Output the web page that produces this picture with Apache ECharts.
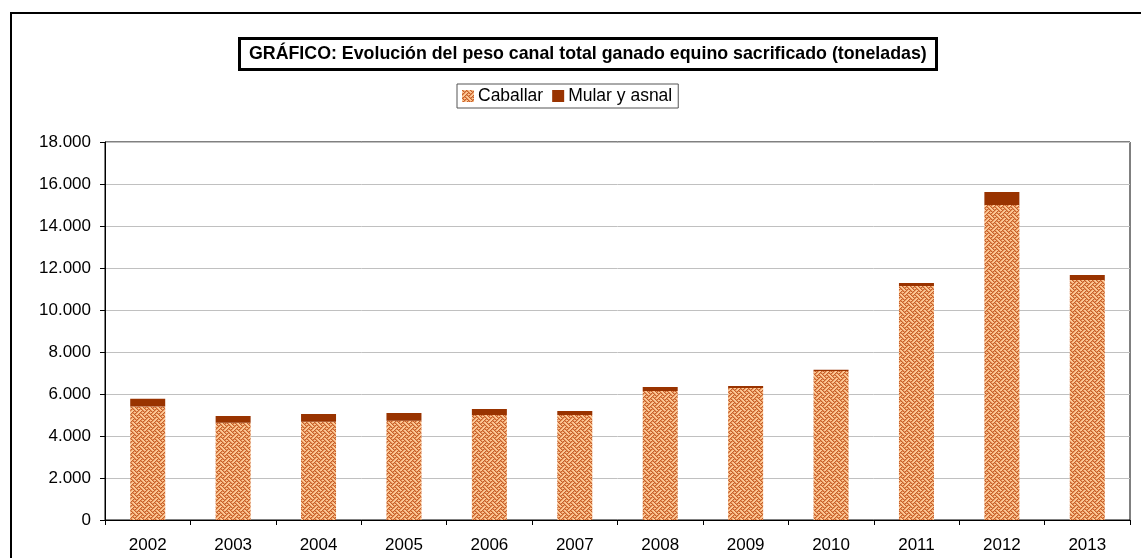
<!DOCTYPE html>
<html>
<head>
<meta charset="utf-8">
<script src="https://cdn.jsdelivr.net/npm/echarts@6/dist/echarts.min.js"></script>
<style>
  html, body { margin: 0; padding: 0; background: #fff; }
  #chart { width: 1141px; height: 558px; }
</style>
</head>
<body>
<div id="chart"></div>
<script>
const years = ['2002', '2003', '2004', '2005', '2006', '2007', '2008', '2009', '2010', '2011', '2012', '2013']
const caballar = [5400, 4630, 4680, 4730, 5000, 5000, 6140, 6290, 7100, 11140, 15000, 11430]
const mular = [370, 320, 370, 370, 290, 190, 190, 90, 50, 140, 620, 240]
const yTicks = { min: 0, max: 18000, step: 2000 }

const font = '"Liberation Sans", Arial, sans-serif'

// excel-like weave fill for the caballar bars
function weavePattern() {
  const rows = [
    'x...x...',
    '.x.x.x..',
    '..x...x.',
    '.x...x.x',
    'x...x...',
    '...x.x.x',
    '..x...x.',
    '.x.x...x',
  ]
  const c = document.createElement('canvas')
  c.width = 8
  c.height = 8
  const ctx = c.getContext('2d')
  ctx.fillStyle = '#fcc896'
  ctx.fillRect(0, 0, 8, 8)
  rows.forEach((row, y) => {
    for (let x = 0; x < 8; x++) {
      if (row[x] === 'x') {
        ctx.fillStyle = '#e8955c'
        ctx.fillRect((x + 1) % 8, y, 1, 1)
      }
    }
  })
  // dark pixels on top of the mid tone
  ctx.fillStyle = '#c4602c'
  rows.forEach((row, y) => {
    for (let x = 0; x < 8; x++) {
      if (row[x] === 'x') ctx.fillRect(x, y, 1, 1)
    }
  })
  return c
}

function fmt(v) {
  return String(v).replace(/\B(?=(\d{3})+(?!\d))/g, '.')
}

const chart = echarts.init(document.getElementById('chart'))
const option = {
  animation: false,
  textStyle: { fontFamily: font },
  title: {
    text: 'GRÁFICO: Evolución del peso canal total ganado equino sacrificado (toneladas)',
    left: 239,
    top: 38,
    padding: [7, 10, 7, 10],
    borderColor: '#000',
    borderWidth: 3,
    textStyle: {
      fontFamily: font,
      fontSize: 17.8,
      fontWeight: 'bold',
      color: '#000',
    },
  },
  legend: {
    left: 457,
    top: 84,
    padding: [3, 6, 3, 5],
    borderColor: '#555',
    borderWidth: 1,
    itemWidth: 12,
    itemHeight: 12,
    itemGap: 9,
    icon: 'rect',
    textStyle: { fontFamily: font, fontSize: 17.5, color: '#000', padding: [0, 0, 0, -1] },
    data: ['Caballar', 'Mular y asnal'],
  },
  graphic: [
    {
      type: 'rect',
      shape: { x: 11, y: 13, width: 1200, height: 600 },
      style: { fill: 'none', stroke: '#000', lineWidth: 2 },
      silent: true,
      z: 100,
    },
  ],
  grid: {
    left: 105,
    top: 142,
    right: 11,
    bottom: 38,
    show: true,
    borderColor: '#000',
    borderWidth: 1,
  },
  xAxis: {
    type: 'category',
    data: years,
    axisLine: { lineStyle: { color: '#000', width: 1 } },
    axisTick: { show: true, length: 5, lineStyle: { color: '#000' } },
    axisLabel: { color: '#000', fontSize: 17, margin: 17, fontFamily: font },
  },
  yAxis: {
    type: 'value',
    min: yTicks.min,
    max: yTicks.max,
    interval: yTicks.step,
    axisLine: { show: true, lineStyle: { color: '#000', width: 1 } },
    axisTick: { show: true, length: 5, lineStyle: { color: '#000' } },
    axisLabel: { color: '#000', fontSize: 17, margin: 14, fontFamily: font, formatter: fmt },
    splitLine: { show: true, lineStyle: { color: '#c0c0c0', width: 1 } },
  },
  series: [
    {
      name: 'Caballar',
      type: 'bar',
      stack: 'total',
      barWidth: 35,
      data: caballar,
      itemStyle: { color: { image: weavePattern(), repeat: 'repeat' } },
    },
    {
      name: 'Mular y asnal',
      type: 'bar',
      stack: 'total',
      barWidth: 35,
      data: mular,
      itemStyle: { color: '#993300' },
    },
  ],
}
chart.setOption(option)
</script>
</body>
</html>
